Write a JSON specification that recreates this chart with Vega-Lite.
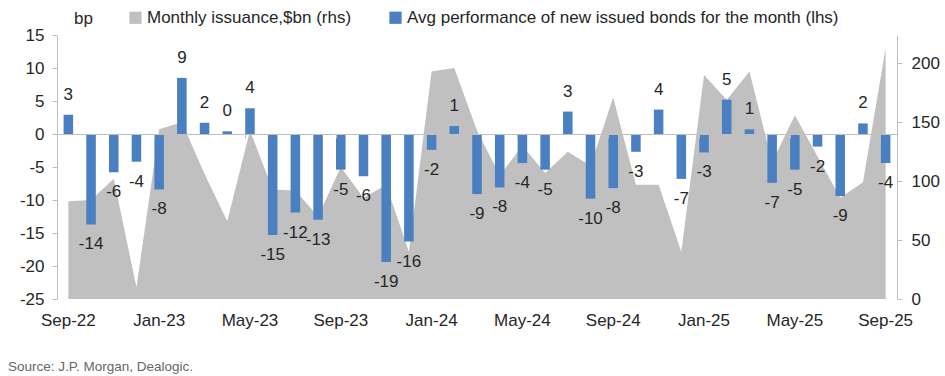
{
  "$schema": "https://vega.github.io/schema/vega-lite/v6.json",
  "width": 840,
  "height": 264,
  "autosize": {"type": "none"},
  "padding": {"left": 57, "top": 35, "right": 48, "bottom": 77},
  "background": "white",
  "title": {
    "text": "Source: J.P. Morgan, Dealogic.",
    "orient": "bottom",
    "anchor": "start",
    "frame": "group",
    "font": "Liberation Sans",
    "fontSize": 13.5,
    "fontWeight": "normal",
    "color": "#666666",
    "dx": -49,
    "offset": 32
  },
  "data": {
    "values": [
      {"month": "Sep-22", "v": 2.9, "a": 83},
      {"month": "Oct-22", "v": -13.7, "a": 84},
      {"month": "Nov-22", "v": -5.8, "a": 102},
      {"month": "Dec-22", "v": -4.2, "a": 10},
      {"month": "Jan-23", "v": -8.4, "a": 144},
      {"month": "Feb-23", "v": 8.5, "a": 150},
      {"month": "Mar-23", "v": 1.7, "a": 106},
      {"month": "Apr-23", "v": 0.4, "a": 66},
      {"month": "May-23", "v": 3.9, "a": 143},
      {"month": "Jun-23", "v": -15.3, "a": 93},
      {"month": "Jul-23", "v": -11.9, "a": 92},
      {"month": "Aug-23", "v": -13.0, "a": 70},
      {"month": "Sep-23", "v": -5.4, "a": 112},
      {"month": "Oct-23", "v": -6.4, "a": 86},
      {"month": "Nov-23", "v": -19.4, "a": 97},
      {"month": "Dec-23", "v": -16.3, "a": 40},
      {"month": "Jan-24", "v": -2.4, "a": 193},
      {"month": "Feb-24", "v": 1.2, "a": 196},
      {"month": "Mar-24", "v": -9.1, "a": 143},
      {"month": "Apr-24", "v": -8.1, "a": 105},
      {"month": "May-24", "v": -4.4, "a": 130},
      {"month": "Jun-24", "v": -5.4, "a": 107},
      {"month": "Jul-24", "v": 3.4, "a": 125},
      {"month": "Aug-24", "v": -9.8, "a": 113},
      {"month": "Sep-24", "v": -8.2, "a": 171},
      {"month": "Oct-24", "v": -2.7, "a": 97},
      {"month": "Nov-24", "v": 3.7, "a": 97},
      {"month": "Dec-24", "v": -6.8, "a": 40},
      {"month": "Jan-25", "v": -2.8, "a": 190},
      {"month": "Feb-25", "v": 5.2, "a": 169},
      {"month": "Mar-25", "v": 0.7, "a": 193},
      {"month": "Apr-25", "v": -7.4, "a": 116},
      {"month": "May-25", "v": -5.4, "a": 156},
      {"month": "Jun-25", "v": -1.9, "a": 121},
      {"month": "Jul-25", "v": -9.4, "a": 86},
      {"month": "Aug-25", "v": 1.6, "a": 99},
      {"month": "Sep-25", "v": -4.4, "a": 213}
    ]
  },
  "layer": [
    {
      "mark": {"type": "area", "opacity": 1},
      "encoding": {
        "x": {
          "field": "month",
          "type": "ordinal",
          "sort": null,
          "scale": {"paddingInner": 0.58, "paddingOuter": 0.29},
          "axis": {
            "orient": "bottom",
            "values": ["Sep-22", "Jan-23", "May-23", "Sep-23", "Jan-24", "May-24", "Sep-24", "Jan-25", "May-25", "Sep-25"],
            "domain": false,
            "ticks": false,
            "labelAngle": 0,
            "labelPadding": 13,
            "title": null
          }
        },
        "y": {
          "field": "a",
          "type": "quantitative",
          "scale": {"domain": [0, 224], "nice": false, "zero": true},
          "axis": {
            "orient": "right",
            "values": [0, 50, 100, 150, 200],
            "title": null,
            "tickSize": 5,
            "labelPadding": 9
          }
        },
        "color": {
          "datum": "Monthly issuance,$bn (rhs)",
          "type": "nominal",
          "scale": {
            "domain": ["Monthly issuance,$bn (rhs)", "Avg performance of new issued bonds for the month (lhs)"],
            "range": ["#c0c0c0", "#4a7fc1"]
          },
          "legend": {
            "orient": "none",
            "direction": "horizontal",
            "legendX": 70,
            "legendY": -26,
            "title": null,
            "symbolType": "square",
            "symbolSize": 150,
            "symbolStrokeWidth": 0,
            "symbolOpacity": 1,
            "labelFont": "Liberation Sans",
            "labelFontSize": 17,
            "labelColor": "#262626",
            "labelOffset": 3,
            "columnPadding": 35,
            "padding": 0,
            "labelLimit": 600
          }
        }
      }
    },
    {
      "encoding": {
        "x": {
          "field": "month",
          "type": "ordinal",
          "sort": null,
          "axis": {
            "orient": "bottom",
            "values": ["Jan-23", "May-23", "Sep-23", "Jan-24", "May-24", "Sep-24", "Jan-25", "May-25", "Sep-25"],
            "bandPosition": 0,
            "labels": false,
            "ticks": true,
            "tickSize": 4,
            "offset": -165,
            "domain": true,
            "title": null,
            "zindex": 1
          }
        },
        "y": {
          "field": "v",
          "type": "quantitative",
          "scale": {"domain": [-25, 15], "nice": false},
          "axis": {
            "orient": "left",
            "values": [-25, -20, -15, -10, -5, 0, 5, 10, 15],
            "title": "bp",
            "titleAngle": 0,
            "titleX": 26,
            "titleY": -17,
            "titleAlign": "center",
            "titleBaseline": "middle",
            "titleFont": "Liberation Sans",
            "titleFontSize": 17,
            "titleFontWeight": "normal",
            "titleColor": "#262626",
            "tickSize": 5,
            "labelPadding": 8
          }
        }
      },
      "layer": [
        {
          "mark": {"type": "bar"},
          "encoding": {
            "color": {"datum": "Avg performance of new issued bonds for the month (lhs)", "type": "nominal"}
          }
        },
        {
          "transform": [{"filter": "datum.v >= 0"}],
          "mark": {"type": "text", "baseline": "alphabetic", "dy": -15, "font": "Liberation Sans", "fontSize": 17, "color": "#262626"},
          "encoding": {"text": {"field": "v", "type": "quantitative", "format": ".0f"}}
        },
        {
          "transform": [{"filter": "datum.v < 0"}],
          "mark": {"type": "text", "baseline": "top", "dy": 12, "font": "Liberation Sans", "fontSize": 17, "color": "#262626"},
          "encoding": {"text": {"field": "v", "type": "quantitative", "format": ".0f"}}
        }
      ]
    }
  ],
  "resolve": {"scale": {"y": "independent"}, "axis": {"x": "independent"}},
  "config": {
    "locale": {
      "number": {"decimal": ".", "thousands": ",", "grouping": [3], "currency": ["$", ""], "minus": "-"}
    },
    "view": {"stroke": null},
    "axis": {
      "grid": false,
      "labelFont": "Liberation Sans",
      "labelFontSize": 17,
      "labelColor": "#262626",
      "domainColor": "#bfbfbf",
      "tickColor": "#bfbfbf",
      "domainWidth": 1,
      "tickWidth": 1
    }
  }
}
